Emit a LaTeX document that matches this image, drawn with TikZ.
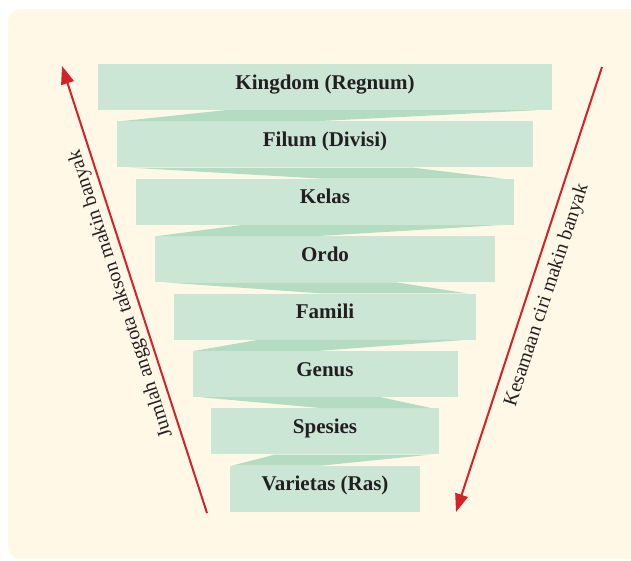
\documentclass[tikz,border=0pt]{standalone}
\usepackage{fontspec}
\setmainfont{Liberation Serif}
\usetikzlibrary{arrows.meta,calc}
\definecolor{bgcream}{HTML}{FFF8E7}
\definecolor{bandgreen}{HTML}{CBE6D4}
\definecolor{foldgreen}{HTML}{B3DCC3}
\definecolor{arrowred}{HTML}{D2222A}
\definecolor{inkdark}{HTML}{231F20}
\begin{document}
\begin{tikzpicture}[x=1pt,y=-1pt,
  band/.style={fill=bandgreen, draw=none, minimum height=46pt, inner sep=0pt,
    text=inkdark, font=\fontsize{21}{25}\selectfont\bfseries,
    text height=12pt, text depth=8pt},
  fold/.style={fill=foldgreen, draw=none},
  redarrow/.style={draw=arrowred, line width=2pt,
    -{Triangle[length=18pt,width=13pt]}},
  sidelabel/.style={font=\fontsize{20}{24}\selectfont, text=inkdark, inner sep=4pt}]

\useasboundingbox (0,0) rectangle (631,560);
\begin{scope}
  \clip (0,0) rectangle (631,560);
  \fill[bgcream, rounded corners=12pt] (8,9) rectangle (660,559);
\end{scope}

% bands
\node[band, minimum width=454pt]   (b1) at (325,87)    {Kingdom (Regnum)};
\node[band, minimum width=416.2pt] (b2) at (325,144.4) {Filum (Divisi)};
\node[band, minimum width=378.4pt] (b3) at (325,201.8) {Kelas};
\node[band, minimum width=340.6pt] (b4) at (325,259.2) {Ordo};
\node[band, minimum width=302.8pt] (b5) at (325,316.6) {Famili};
\node[band, minimum width=265pt]   (b6) at (325,374)   {Genus};
\node[band, minimum width=227.2pt] (b7) at (325,431.4) {Spesies};
\node[band, minimum width=189.4pt] (b8) at (325,488.8) {Varietas (Ras)};

% folds right -> left
\foreach \a/\b in {b1/b2, b3/b4, b5/b6, b7/b8}{
  \fill[fold] ($(\a.south west)!0.28!(\a.south east)$) -- ($(\a.south west)!0.965!(\a.south east)$)
    -- ($(\b.north west)!0.48!(\b.north east)$) -- ($(\b.north west)!0.01!(\b.north east)$) -- cycle;
}
% folds left -> right
\foreach \a/\b in {b2/b3, b4/b5, b6/b7}{
  \fill[fold] ($(\a.south west)!0.03!(\a.south east)$) -- ($(\a.south west)!0.71!(\a.south east)$)
    -- ($(\b.north west)!0.97!(\b.north east)$) -- ($(\b.north west)!0.49!(\b.north east)$) -- cycle;
}

% arrows
\coordinate (ltail) at (207,513);
\coordinate (lhead) at (62,66);
\coordinate (rtail) at (602,67);
\coordinate (rhead) at (456,512);

\draw[redarrow] (ltail) -- (lhead)
  node[pos=0.5, sloped, allow upside down, above, sidelabel] (llab) {Jumlah anggota takson makin banyak};
\draw[redarrow] (rtail) -- (rhead)
  node[pos=0.5, sloped, below=5pt, sidelabel] (rlab) {Kesamaan ciri makin banyak};
\end{tikzpicture}
\end{document}
